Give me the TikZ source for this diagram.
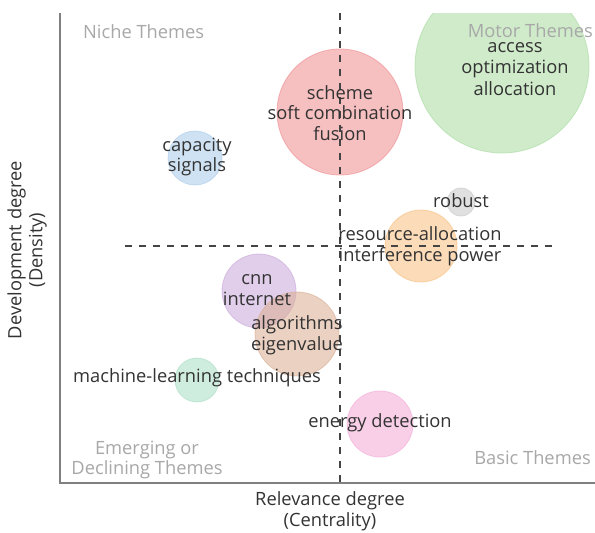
\documentclass[tikz,border=0pt]{standalone}
\usepackage{fontspec}
\setmainfont{Open Sans}
\definecolor{txt}{HTML}{333333}
\definecolor{quad}{HTML}{A8A8A8}
\definecolor{axisc}{HTML}{808080}
\definecolor{dashc}{HTML}{444444}
\definecolor{cred}{HTML}{EF8B8E}
\definecolor{cgreen}{HTML}{A8DBA0}
\definecolor{cblue}{HTML}{A9CBEA}
\definecolor{corange}{HTML}{F9BF7E}
\definecolor{cpurple}{HTML}{C9A7DB}
\definecolor{cbrown}{HTML}{D9AD91}
\definecolor{cmint}{HTML}{A8DFC4}
\definecolor{cpink}{HTML}{F5A8D6}
\definecolor{cgray}{HTML}{C8C8C8}
\begin{document}
\begin{tikzpicture}[x=1pt,y=-1pt,
  bubble/.style={circle, inner sep=0pt, fill=#1, fill opacity=0.55, draw=#1, draw opacity=0.6, line width=0.8pt},
  lbl/.style={text=txt, align=center, font=\fontsize{18.3}{20.5}\selectfont, inner sep=0pt},
  quadlbl/.style={text=quad, align=center, font=\fontsize{18.3}{20.5}\selectfont, inner sep=0pt},
  axlbl/.style={text=txt, align=center, font=\fontsize{18.3}{21}\selectfont, inner sep=0pt},
  axisline/.style={draw=axisc, line width=1.4pt},
  divider/.style={draw=dashc, line width=1.6pt, dash pattern=on 7pt off 7pt}
]
\useasboundingbox (0,0) rectangle (595,533);
\fill[white] (0,0) rectangle (595,533);
% bubbles
\begin{scope}
\clip (0,13) rectangle (595,533);
\node[bubble=cgreen, minimum size=174pt] (bgreen) at (502,66) {};
\end{scope}
\node[bubble=cred, minimum size=126pt] (bred) at (340,112) {};
\node[bubble=cblue, minimum size=54pt] (bblue) at (195,158) {};
\node[bubble=cgray, minimum size=28pt] (bgray) at (461,202) {};
\node[bubble=corange, minimum size=72pt] (borange) at (421,246) {};
\node[bubble=cpurple, minimum size=74pt] (bpurple) at (259,291) {};
\node[bubble=cbrown, minimum size=84pt] (bbrown) at (297,334) {};
\node[bubble=cmint, minimum size=44pt] (bmint) at (197,380) {};
\node[bubble=cpink, minimum size=66pt] (bpink) at (380,424) {};
% axes
\coordinate (ytop) at (60,13);
\coordinate (orig) at (60,483);
\coordinate (xend) at (595,483);
\draw[axisline] (ytop) -- (orig) -- (xend);
% dividers
\coordinate (vtop) at (340,13);
\coordinate (vbot) at (340,483);
\coordinate (hleft) at (125,246);
\coordinate (hright) at (555,246);
\draw[divider] (vtop) -- (vbot);
\draw[divider] (hleft) -- (hright);
% quadrant labels
\node[quadlbl, anchor=west] (qniche) at (83,32) {Niche Themes};
\node[quadlbl, anchor=east] (qmotor) at (593,31) {Motor Themes};
\node[quadlbl] (qemerg) at (147,460) {Emerging or\\Declining Themes};
\node[quadlbl, anchor=east] (qbasic) at (591,458) {Basic Themes};
% bubble labels
\node[lbl, font=\fontsize{18.3}{21.5}\selectfont] (tgreen) at (515,69) {access\\optimization\\allocation};
\node[lbl] (tred) at (340,113) {scheme\\soft combination\\fusion};
\node[lbl] (tblue) at (197,157) {capacity\\signals};
\node[lbl] (tgray) at (461,201) {robust};
\node[lbl] (torange) at (420,246) {resource-allocation\\interference power};
\node[lbl] (tpurple) at (257,290) {cnn\\internet};
\node[lbl] (tbrown) at (297,335) {algorithms\\eigenvalue};
\node[lbl] (tmint) at (197,378) {machine-learning techniques};
\node[lbl] (tpink) at (380,423) {energy detection};
% axis labels
\node[axlbl] (xlab) at (330,511) {Relevance degree\\(Centrality)};
\node[axlbl, rotate=90] (ylab) at (27,250) {Development degree\\(Density)};
\end{tikzpicture}
\end{document}
